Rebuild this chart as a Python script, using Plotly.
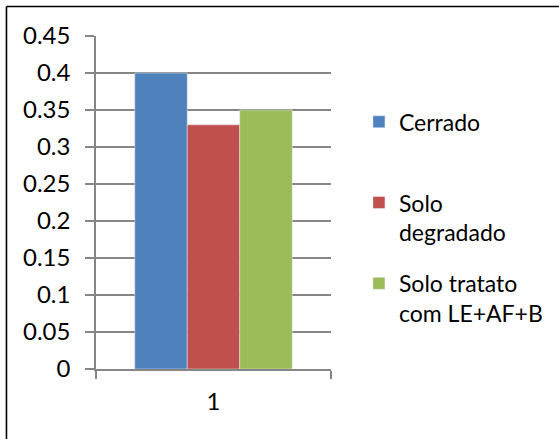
import plotly.graph_objects as go

categories = ["1"]
series_names = ["Cerrado<br>\u00a0", "Solo<br>degradado", "Solo tratato<br>com LE+AF+B"]
series_values = [[0.40], [0.33], [0.35]]
series_colors = ["#4F81BD", "#C0504D", "#9BBB59"]
y_ticks = [0, 0.05, 0.1, 0.15, 0.2, 0.25, 0.3, 0.35, 0.4, 0.45]
y_tick_text = ["0", "0.05", "0.1", "0.15", "0.2", "0.25", "0.3", "0.35", "0.4", "0.45"]

FONT = "Lato"
GRID = "#868686"

fig = go.Figure()
for i, (name, vals, col) in enumerate(zip(series_names, series_values, series_colors)):
    fig.add_trace(go.Bar(x=categories, y=vals, name=name, marker_color=col,
                         legendgroup=f"g{i}"))

fig.update_layout(
    width=559, height=439,
    margin=dict(l=96, r=228, t=36, b=70, autoexpand=False),
    paper_bgcolor="white", plot_bgcolor="white",
    barmode="group", bargap=0.33, bargroupgap=0,
    font=dict(family=FONT, size=24, color="#000000"),
    legend=dict(x=1.119, y=0.807, xanchor="left", yanchor="top",
                valign="top", tracegroupgap=18,
                font=dict(family=FONT, size=23, color="#000000"),
                bgcolor="rgba(0,0,0,0)"),
    showlegend=True,
)
fig.update_yaxes(range=[0, 0.45], tickvals=y_ticks, ticktext=y_tick_text,
                 showgrid=True, gridcolor=GRID, gridwidth=1.5,
                 showline=True, linecolor=GRID, linewidth=1.5,
                 ticks="outside", ticklen=9, tickcolor=GRID, tickwidth=1.5,
                 zeroline=False, ticklabelstandoff=10)
fig.update_xaxes(showline=True, linecolor=GRID, linewidth=1.5,
                 ticks="outside", ticklen=8, tickcolor=GRID, tickwidth=1.5,
                 tickson="boundaries", showgrid=False, ticklabelstandoff=10)

# outer chart-area border (top and left edges visible)
fig.add_shape(type="line", xref="paper", yref="paper",
              x0=-0.381, x1=2.0, y0=1.0886, y1=1.0886,
              line=dict(color="#000000", width=1.6))
fig.add_shape(type="line", xref="paper", yref="paper",
              x0=-0.381, x1=-0.381, y0=1.0886, y1=-0.6,
              line=dict(color="#000000", width=1.6))

fig.write_html("out.html", config={"displayModeBar": False},
               post_script="document.body.style.margin='0';")
